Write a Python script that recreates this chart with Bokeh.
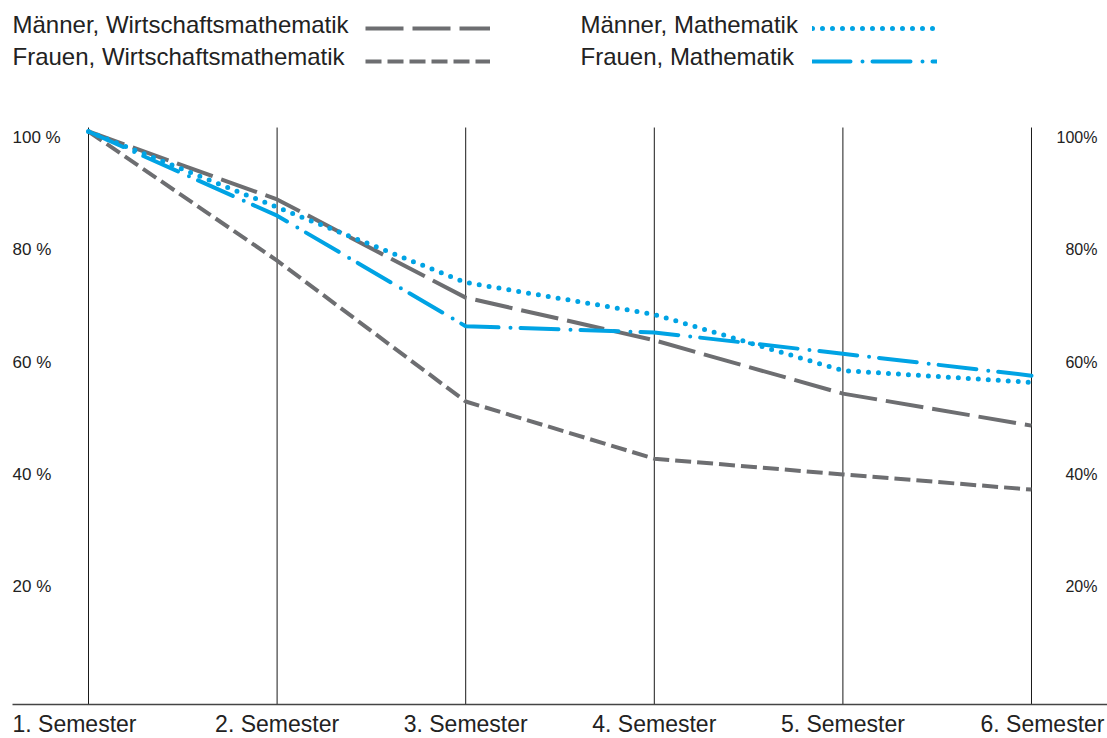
from bokeh.plotting import figure
from bokeh.models import Range1d, Label, Legend, LegendItem, ColumnDataSource
from bokeh.core.properties import value
from bokeh.embed import file_html
from bokeh.resources import INLINE

# ---- data ----
semesters = [1, 2, 3, 4, 5, 6]
semester_labels = ["1. Semester", "2. Semester", "3. Semester", "4. Semester", "5. Semester", "6. Semester"]
maenner_wima = [100, 87.9, 70.4, 62.8, 53.3, 47.6]
frauen_wima = [100, 77.0, 51.9, 41.7, 38.9, 36.2]
maenner_mathe = [100, 86.5, 73.1, 67.4, 57.4, 55.3]
frauen_mathe = [100, 85.0, 65.3, 64.2, 60.4, 56.5]
y_ticks = [20, 40, 60, 80, 100]
left_tick_labels = ["20 %", "40 %", "60 %", "80 %", "100 %"]
right_tick_labels = ["20%", "40%", "60%", "80%", "100%"]

GRAY = "#6d6e71"
BLUE = "#00a3e4"
TEXT = "#222222"
FONT = "Liberation Sans"

W, H = 1107, 738
X0, X1 = 0.5334, 6.4030
Y0, Y1 = -8.151, 123.341
BASE = -2.09
TOP = 100.71
LEFT = 1 - 76 / 188.6

p = figure(width=W, height=H, output_backend="svg", toolbar_location=None,
           x_range=Range1d(X0, X1), y_range=Range1d(Y0, Y1),
           min_border=0, min_border_left=0, min_border_right=0,
           min_border_top=0, min_border_bottom=0)
p.axis.visible = False
p.grid.visible = False
p.outline_line_color = None
p.background_fill_color = "white"
p.border_fill_color = "white"

# vertical semester lines
p.segment(x0=semesters, y0=[BASE] * 6, x1=semesters, y1=[TOP] * 6,
          line_color="#1a1a1a", line_width=1)
# baseline
p.segment(x0=[LEFT], y0=[BASE], x1=[X1], y1=[BASE], line_color="#444444", line_width=1.5)

r_mw = p.line(semesters, maenner_wima, line_color=GRAY, line_width=4,
              line_dash="38 9", line_join="round")
r_fw = p.line(semesters, frauen_wima, line_color=GRAY, line_width=4,
              line_dash="16 6", line_join="round")
r_mm = p.line(semesters, maenner_mathe, line_color=BLUE, line_width=5,
              line_dash="0 10", line_cap="round", line_join="round")
r_fm = p.line(semesters, frauen_mathe, line_color=BLUE, line_width=4,
              line_dash="38 12 0 10", line_cap="round", line_join="round")

# y labels
p.text(x=[1] * 5, y=y_ticks, text=left_tick_labels, x_offset=-76, y_offset=6,
       text_align="left", text_baseline="middle", text_color=TEXT,
       text_font=value(FONT), text_font_size="17px")
p.text(x=[6] * 5, y=y_ticks, text=right_tick_labels, x_offset=66, y_offset=6,
       text_align="right", text_baseline="middle", text_color=TEXT,
       text_font=value(FONT), text_font_size="16px")

# x labels
aligns = ["left", "center", "center", "center", "center", "right"]
xoffs = [-76, 0, 0, 0, 0, 73]
src = ColumnDataSource(dict(x=semesters, y=[BASE] * 6, t=semester_labels, a=aligns, xo=xoffs))
p.text(x="x", y="y", text="t", source=src, text_align="a", x_offset="xo", y_offset=20,
       text_baseline="alphabetic", text_color=TEXT, text_font=value(FONT), text_font_size="23px")

# legend texts
legend_texts = [("Männer, Wirtschaftsmathematik", 12, 24), ("Frauen, Wirtschaftsmathematik", 12, 56),
                ("Männer, Mathematik", 580, 24), ("Frauen, Mathematik", 580, 56)]
for t, x, y in legend_texts:
    p.add_layout(Label(x=x, y=H - y, x_units="screen", y_units="screen", text=t,
                       text_baseline="middle", text_color=TEXT, text_font=FONT,
                       text_font_size="24px"))

def sample_legend(renderers, loc):
    lg = Legend(items=[LegendItem(label=" ", renderers=[r]) for r in renderers],
                location=loc, glyph_width=125, glyph_height=20, label_height=20,
                label_width=1, spacing=13, padding=0, margin=0, label_standoff=0,
                label_text_font_size="8px", border_line_alpha=0,
                background_fill_alpha=0)
    p.add_layout(lg)

sample_legend([r_mw, r_fw], (365, H - 71))
sample_legend([r_mm, r_fm], (812, H - 71))

open("out.html", "w").write(file_html(p, INLINE))
